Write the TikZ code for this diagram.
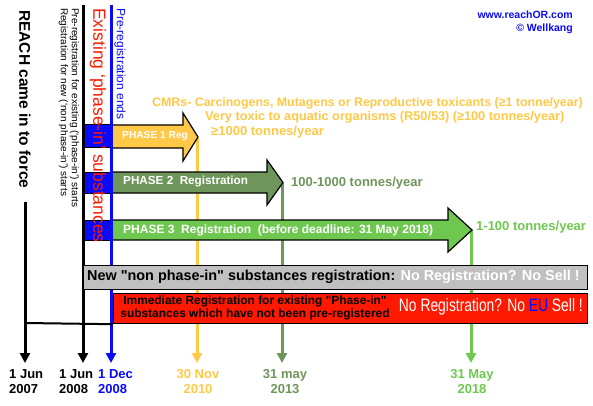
\documentclass[tikz,border=0pt]{standalone}
\usepackage{fontspec}
\setmainfont{Liberation Sans}
\usepackage{graphicx}
\usetikzlibrary{arrows.meta,positioning,calc}
\definecolor{phaseone}{RGB}{255,200,70}
\definecolor{phasetwo}{RGB}{110,150,90}
\definecolor{phasethree}{RGB}{110,200,80}
\definecolor{regblue}{RGB}{10,10,250}
\definecolor{regred}{RGB}{255,25,0}
\definecolor{reggray}{RGB}{192,192,192}

\begin{document}
\begin{tikzpicture}[x=1pt,y=-1pt,>={Triangle[width=10pt,length=10pt]},
  dateline/.style={line width=3pt,->},
  phasebody/.style={draw=black,line width=1.2pt,line join=miter},
  rottext/.style={rotate=-90,anchor=west,inner sep=0pt},
  datelbl/.style={anchor=north,align=center,inner sep=0pt,font=\bfseries\fontsize{13pt}{15pt}\selectfont},
  tonnes/.style={anchor=west,inner sep=0pt,font=\bfseries\fontsize{13pt}{15pt}\selectfont},
  hazard/.style={anchor=west,inner sep=0pt,text=phaseone,font=\bfseries\fontsize{12.4pt}{14pt}\selectfont},
  phaselbl/.style={anchor=west,inner sep=0pt,text=white,font=\bfseries\fontsize{12pt}{14pt}\selectfont}]
\useasboundingbox (0,0) rectangle (593,406);

% time lines
\coordinate (reach top) at (25,202);
\coordinate (reach end) at (25,363);
\coordinate (start top) at (83,5);
\coordinate (start end) at (83,363);
\coordinate (ends top) at (111,5);
\coordinate (ends end) at (111,363);
\coordinate (one end) at (197,363);
\coordinate (two end) at (282,363);
\coordinate (three end) at (471,363);

% band of existing substances
\draw[fill=regblue,line width=1pt] (83,125) rectangle (111,147);
\draw[fill=regblue,line width=1pt] (83,172) rectangle (111,193);
\draw[fill=regblue,line width=1pt] (83,220) rectangle (111,240);

% phase arrows
\draw[dateline,phaseone] (197,137) -- (one end);
\draw[dateline,phasetwo] (282,183) -- (two end);
\draw[dateline,phasethree] (471,230) -- (three end);
\draw[phasebody,fill=phaseone] (112,125) -- (183,125) -- (183,113) -- (198,137) -- (183,161) -- (183,148) -- (112,148) -- cycle;
\draw[phasebody,fill=phasetwo] (112,172) -- (267,172) -- (267,160) -- (283,182.5) -- (267,205) -- (267,193) -- (112,193) -- cycle;
\draw[phasebody,fill=phasethree] (112,220) -- (448,220) -- (448,208) -- (472,230) -- (448,252) -- (448,240) -- (112,240) -- cycle;
\node[phaselbl,font=\bfseries\fontsize{10.2pt}{12pt}\selectfont] (p1) at (122,136) {PHASE 1 Reg};
\node[phaselbl,font=\bfseries\fontsize{11.7pt}{14pt}\selectfont] (p2) at (123,182) {PHASE 2~~Registration};
\node[phaselbl] (p3) at (123,230) {PHASE 3~~Registration~~(before deadline: 31 May 2018)};

\draw[dateline] (reach top) -- (reach end);
\draw[dateline] (start top) -- (start end);
\draw[dateline,regblue] (ends top) -- (ends end);

% tonnage bands
\node[hazard] (cmr) at (152,103) {CMRs- Carcinogens, Mutagens or Reproductive toxicants (≥1 tonne/year)};
\node[hazard,font=\bfseries\fontsize{12.7pt}{14pt}\selectfont] (aqua) at (205,117) {Very toxic to aquatic organisms (R50/53) (≥100 tonnes/year)};
\node[hazard,font=\bfseries\fontsize{13pt}{14pt}\selectfont] (t1000) at (211,132) {≥1000 tonnes/year};
\node[tonnes,text=phasetwo] (t100) at (291,183) {100-1000 tonnes/year};
\node[tonnes,text=phasethree] (t1) at (476,227) {1-100 tonnes/year};

% vertical labels
\node[rottext,font=\bfseries\fontsize{15.5pt}{18pt}\selectfont] (reach lbl) at (25,10) {REACH came in to force};
\node[rottext,align=left,font=\fontsize{10pt}{11pt}\selectfont] (prereg lbl) at (69,8) {Pre-registration for existing (‘phase-in’) starts\\Registration for new (‘non phase-in’) starts};
\node[rottext,text=regred,font=\fontsize{17.5pt}{20pt}\selectfont] (exist lbl) at (98,8) {Existing ‘phase-in’ substances};
\node[rottext,text=regblue,font=\fontsize{12pt}{14pt}\selectfont] (ends lbl) at (120,8) {Pre-registration ends};

% registration boxes
\node[draw,line width=1.2pt,fill=reggray,minimum width=504pt,minimum height=24pt,anchor=north west,inner sep=0pt] (newbox) at (83,265) {};
\node[anchor=west,inner sep=0pt,font=\bfseries\fontsize{14.4pt}{16pt}\selectfont] (newtxt) at (87,277) {New \textquotedbl non phase-in\textquotedbl{} substances registration: \textcolor{white}{No Registration? No Sell !}};
\node[draw,line width=1.2pt,fill=regred,minimum width=474pt,minimum height=30pt,anchor=north west,inner sep=0pt] (immbox) at (113,293) {};
\node[align=center,inner sep=0pt,font=\bfseries\fontsize{11.9pt}{13pt}\selectfont] (immtxt) at (255,308) {Immediate Registration for existing \textquotedbl Phase-in\textquotedbl\\substances which have not been pre-registered};
\node[anchor=east,inner sep=0pt,text=white,font=\fontsize{18pt}{20pt}\selectfont] (nosell) at (583,307) {\scalebox{0.77}[1]{No Registration? No \textcolor{regblue}{EU} Sell !}};
\draw[line width=2pt] (25,323) -- (immbox.south west);

% dates
\node[datelbl,anchor=north west,align=left] (d07) at (9,369) {1 Jun\\2007};
\node[datelbl,anchor=north west,align=left] (d08) at (59,369) {1 Jun\\2008};
\node[datelbl,anchor=north west,align=left,text=regblue] (dd08) at (98,369) {1 Dec\\2008};
\node[datelbl,text=phaseone] (d10) at (198,369) {30 Nov\\2010};
\node[datelbl,text=phasetwo] (d13) at (285,369) {31 may\\2013};
\node[datelbl,text=phasethree] (d18) at (472,369) {31 May\\2018};

% source
\node[anchor=north east,align=right,inner sep=0pt,text=regblue,font=\bfseries\fontsize{10.5pt}{13pt}\selectfont] (src) at (573,11) {www.reachOR.com\\© Wellkang};
\end{tikzpicture}
\end{document}
